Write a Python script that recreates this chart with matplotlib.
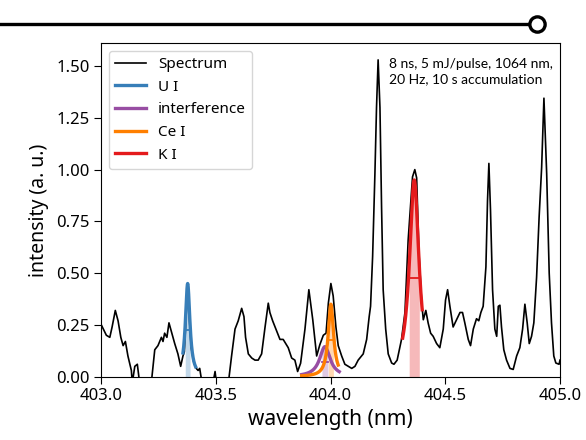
import numpy as np
import matplotlib.pyplot as plt
from matplotlib.lines import Line2D

# spectrum (nm, a.u.)
wl = [403.000, 403.022, 403.037, 403.047, 403.061, 403.073, 403.085, 403.095, 403.105, 403.116,
      403.131, 403.135, 403.146, 403.157, 403.167, 403.218, 403.233, 403.247, 403.262, 403.269,
      403.276, 403.286, 403.295, 403.305, 403.320, 403.334, 403.346, 403.356, 403.362, 403.370,
      403.376, 403.383, 403.392, 403.403, 403.414, 403.422, 403.429, 403.439, 403.487, 403.496,
      403.502, 403.554, 403.568, 403.583, 403.597, 403.612, 403.622, 403.629, 403.641, 403.656,
      403.670, 403.684, 403.699, 403.714, 403.728, 403.735, 403.747, 403.765, 403.779, 403.793,
      403.815, 403.830, 403.844, 403.856, 403.869, 403.888, 403.905, 403.922, 403.939, 403.953,
      403.968, 403.980, 403.990, 404.001, 404.011, 404.023, 404.033, 404.048, 404.062, 404.077,
      404.092, 404.106, 404.120, 404.142, 404.157, 404.168, 404.174, 404.183, 404.193, 404.200,
      404.207, 404.215, 404.222, 404.229, 404.240, 404.251, 404.266, 404.276, 404.290, 404.309,
      404.324, 404.338, 404.357, 404.367, 404.375, 404.385, 404.397, 404.404, 404.415, 404.425,
      404.436, 404.447, 404.462, 404.476, 404.491, 404.501, 404.510, 404.520, 404.534, 404.549,
      404.564, 404.575, 404.585, 404.600, 404.610, 404.622, 404.636, 404.646, 404.655, 404.665,
      404.677, 404.684, 404.690, 404.697, 404.706, 404.716, 404.724, 404.731, 404.738, 404.745,
      404.755, 404.767, 404.782, 404.796, 404.811, 404.825, 404.837, 404.847, 404.857, 404.866,
      404.876, 404.886, 404.898, 404.909, 404.920, 404.930, 404.942, 404.953, 404.963, 404.973,
      404.982, 404.996, 405.000]
inten = [0.25, 0.20, 0.19, 0.24, 0.32, 0.27, 0.19, 0.15, 0.17, 0.10,
         0.03, -0.03, 0.05, 0.06, -0.03, -0.03, 0.13, 0.15, 0.19, 0.17,
         0.21, 0.19, 0.26, 0.22, 0.16, 0.11, 0.05, 0.10, 0.12, 0.30,
         0.44, 0.30, 0.14, 0.07, 0.04, 0.03, 0.04, -0.03, -0.03, 0.025,
         -0.03, -0.03, 0.10, 0.23, 0.27, 0.33, 0.29, 0.19, 0.11, 0.09,
         0.08, 0.08, 0.11, 0.24, 0.355, 0.31, 0.27, 0.22, 0.18, 0.18,
         0.14, 0.09, 0.08, 0.025, 0.065, 0.23, 0.42, 0.275, 0.10, 0.155,
         0.20, 0.21, 0.355, 0.45, 0.39, 0.24, 0.15, 0.10, 0.06, 0.05,
         0.04, 0.05, 0.08, 0.11, 0.18, 0.29, 0.34, 0.58, 0.98, 1.30,
         1.53, 1.30, 0.82, 0.42, 0.23, 0.11, 0.066, 0.06, 0.08, 0.18,
         0.31, 0.66, 0.965, 1.00, 0.96, 0.60, 0.355, 0.275, 0.32, 0.26,
         0.21, 0.195, 0.16, 0.14, 0.23, 0.37, 0.42, 0.34, 0.24, 0.275,
         0.31, 0.31, 0.26, 0.18, 0.15, 0.23, 0.28, 0.27, 0.31, 0.34,
         0.53, 0.85, 1.03, 0.805, 0.42, 0.23, 0.195, 0.34, 0.345, 0.24,
         0.13, 0.08, 0.04, 0.035, 0.10, 0.14, 0.23, 0.35, 0.26, 0.16,
         0.195, 0.26, 0.48, 0.77, 1.01, 1.345, 0.98, 0.50, 0.26, 0.10,
         0.066, 0.06, 0.08]

# fitted lines
line_names = ['U I', 'interference', 'Ce I', 'K I']
line_colors = ['#377eb8', '#984ea3', '#ff7f00', '#e41a1c']
centers = [403.3765, 403.975, 404.001, 404.3645]
amps = [0.45, 0.145, 0.35, 0.95]
gammas = [0.012, 0.028, 0.014, 0.025]   # lorentz HWHM (nm)
fwhm = [0.021, 0.026, 0.022, 0.044]     # shaded band width
lo = [403.356, 403.8736, 403.8736, 404.3139]
hi = [403.4115, 404.0375, 404.033, 404.3993]

note = "8 ns, 5 mJ/pulse, 1064 nm,\n20 Hz, 10 s accumulation"


def lorentz(x, c, a, g):
    return a / (1 + ((x - c) / g) ** 2)


plt.rcParams['font.family'] = ['Noto Sans', 'DejaVu Sans']
fig = plt.figure(figsize=(5.86, 4.4), dpi=100)
ax = fig.add_axes([0.1729, 0.1439, 0.7827, 0.7577])

ax.plot(wl, inten, color='black', lw=1.2, label='Spectrum')
for i in range(len(line_names)):
    x = np.linspace(lo[i], hi[i], 200)
    y = lorentz(x, centers[i], amps[i], gammas[i])
    ax.plot(x, y, color=line_colors[i], lw=2.4, label=line_names[i])
    xb = np.linspace(centers[i] - fwhm[i] / 2, centers[i] + fwhm[i] / 2, 50)
    ax.fill_between(xb, 0, lorentz(xb, centers[i], amps[i], gammas[i]),
                    color=line_colors[i], alpha=0.3, lw=0)
    ax.plot([centers[i] - fwhm[i] / 2, centers[i] + fwhm[i] / 2],
            [amps[i] / 2, amps[i] / 2], color=line_colors[i], lw=1.3)

ax.set_xlim(403.0, 405.0)
ax.set_ylim(0, 1.61)
ax.set_xticks([403.0, 403.5, 404.0, 404.5, 405.0])
ax.set_yticks([0, 0.25, 0.5, 0.75, 1.0, 1.25, 1.5])
ax.set_xticklabels(['403.0', '403.5', '404.0', '404.5', '405.0'])
ax.set_yticklabels(['0.00', '0.25', '0.50', '0.75', '1.00', '1.25', '1.50'])
ax.tick_params(labelsize=12, length=5)
ax.set_xlabel('wavelength (nm)', fontsize=15, labelpad=3)
ax.set_ylabel('intensity (a. u.)', fontsize=14, labelpad=5)
ax.legend(loc='upper left', fontsize=11, framealpha=0.8)
ax.text(0.628, 0.955, note, transform=ax.transAxes, fontsize=10,
        family=['Lato', 'DejaVu Sans'], va='top', ha='left', linespacing=1.3)

# decoration at top
fig.add_artist(Line2D([0, 529 / 586], [1 - 24 / 440, 1 - 24 / 440], color='black', lw=2.4))
fig.add_artist(Line2D([537 / 586], [1 - 24 / 440], marker='o', markersize=11,
                      markerfacecolor='white', markeredgecolor='black', markeredgewidth=2.4))

fig.savefig('out.png', dpi=100)
